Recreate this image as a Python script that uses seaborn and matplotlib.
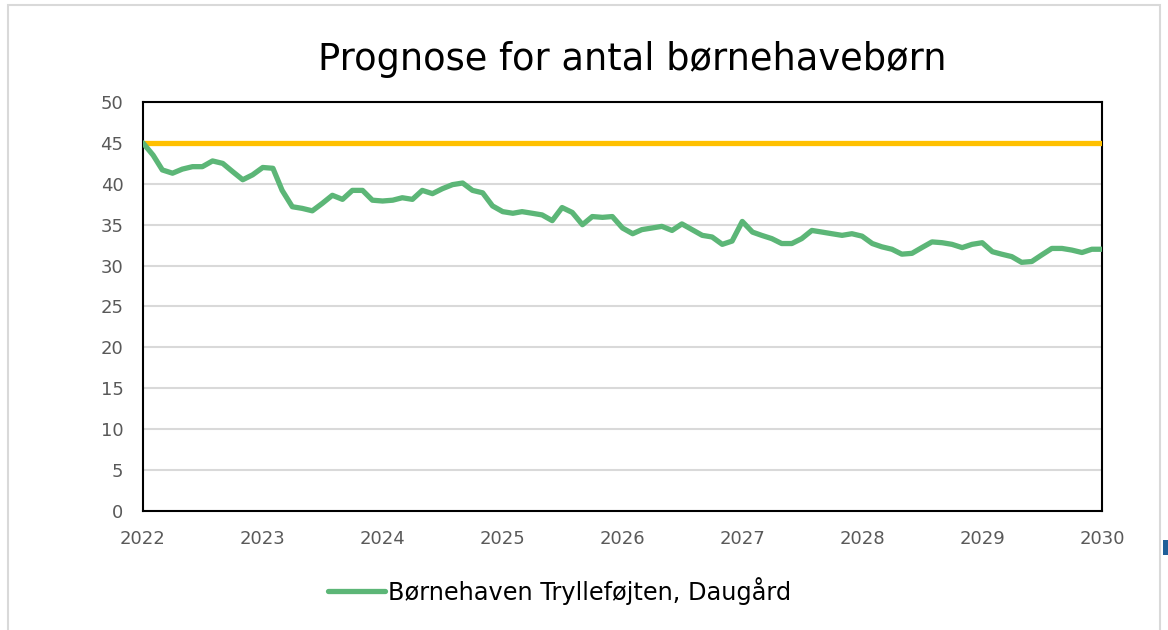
import pandas as pd
import matplotlib.pyplot as plt
from matplotlib.patches import Rectangle
import seaborn as sns

# Månedlig prognose, jan 2022 - jan 2030
maaneder = pd.date_range("2022-01-01", "2030-01-01", freq="MS")
boern = [
    45.0, 43.5, 41.7, 41.3, 41.8, 42.1, 42.1, 42.8, 42.5, 41.5, 40.5, 41.1,
    42.0, 41.9, 39.2, 37.2, 37.0, 36.7, 37.6, 38.6, 38.1, 39.2, 39.2, 38.0,
    37.9, 38.0, 38.3, 38.1, 39.2, 38.8, 39.4, 39.9, 40.1, 39.2, 38.9, 37.3,
    36.6, 36.4, 36.6, 36.4, 36.2, 35.5, 37.1, 36.5, 35.0, 36.0, 35.9, 36.0,
    34.6, 33.9, 34.4, 34.6, 34.8, 34.3, 35.1, 34.4, 33.7, 33.5, 32.6, 33.0,
    35.4, 34.1, 33.7, 33.3, 32.7, 32.7, 33.3, 34.3, 34.1, 33.9, 33.7, 33.9,
    33.6, 32.7, 32.3, 32.0, 31.4, 31.5, 32.2, 32.9, 32.8, 32.6, 32.2, 32.6,
    32.8, 31.7, 31.4, 31.1, 30.4, 30.5, 31.3, 32.1, 32.1, 31.9, 31.6, 32.0,
    32.0,
]
kapacitet = 45
institution = "Børnehaven Trylleføjten, Daugård"
aar_ticks = [str(a) for a in range(2022, 2031)]

df = pd.DataFrame({"dato": maaneder, "antal": boern, "serie": institution})

sns.set_style("white")
plt.rcParams["font.family"] = ["DejaVu Sans"]

fig = plt.figure(figsize=(11.68, 6.3), dpi=100)
ax = fig.add_axes([0.1224, 0.189, 0.9435 - 0.1224, 0.838 - 0.189])

ax.axhline(kapacitet, color="#ffc000", lw=3.8, solid_capstyle="round", zorder=3)
sns.lineplot(data=df, x="dato", y="antal", hue="serie", palette=["#5cb677"],
             lw=3.8, ax=ax, zorder=4, legend=True)

ax.set_xlim(pd.Timestamp("2022-01-01"), pd.Timestamp("2030-01-01"))
ax.set_ylim(0, 50)
ax.set_yticks(range(0, 51, 5))
ax.set_xticks(pd.to_datetime([f"{a}-01-01" for a in aar_ticks]))
ax.set_xticklabels(aar_ticks)
ax.set_xlabel("")
ax.set_ylabel("")
ax.grid(axis="y", color="#d9d9d9", lw=1.5)
ax.set_axisbelow(True)
for s in ax.spines.values():
    s.set_color("black")
    s.set_linewidth(1.5)
ax.tick_params(length=0, labelsize=13, labelcolor="#595959", pad=14)

handles, labels = ax.get_legend_handles_labels()
ax.get_legend().remove()
fig.legend(handles, labels, loc="center", bbox_to_anchor=(0.479, 0.062),
           frameon=False, fontsize=17.3, handlelength=2.4, handletextpad=0.12,
           labelcolor="black")

fig.text(0.541, 0.905, "Prognose for antal børnehavebørn", ha="center",
         va="center", fontsize=26.5, color="black")

# ramme om diagramområdet
fig.patches.append(Rectangle((8 / 1168, -0.05), (1160 - 8) / 1168, 1.05 - 5 / 630,
                             transform=fig.transFigure, fill=False,
                             edgecolor="#d9d9d9", lw=1.5))
fig.patches.append(Rectangle((1163 / 1168, 1 - 555 / 630), 6 / 1168, 15 / 630,
                             transform=fig.transFigure, color="#1f5f99", lw=0))

fig.savefig("out.png", dpi=100, facecolor="white")
